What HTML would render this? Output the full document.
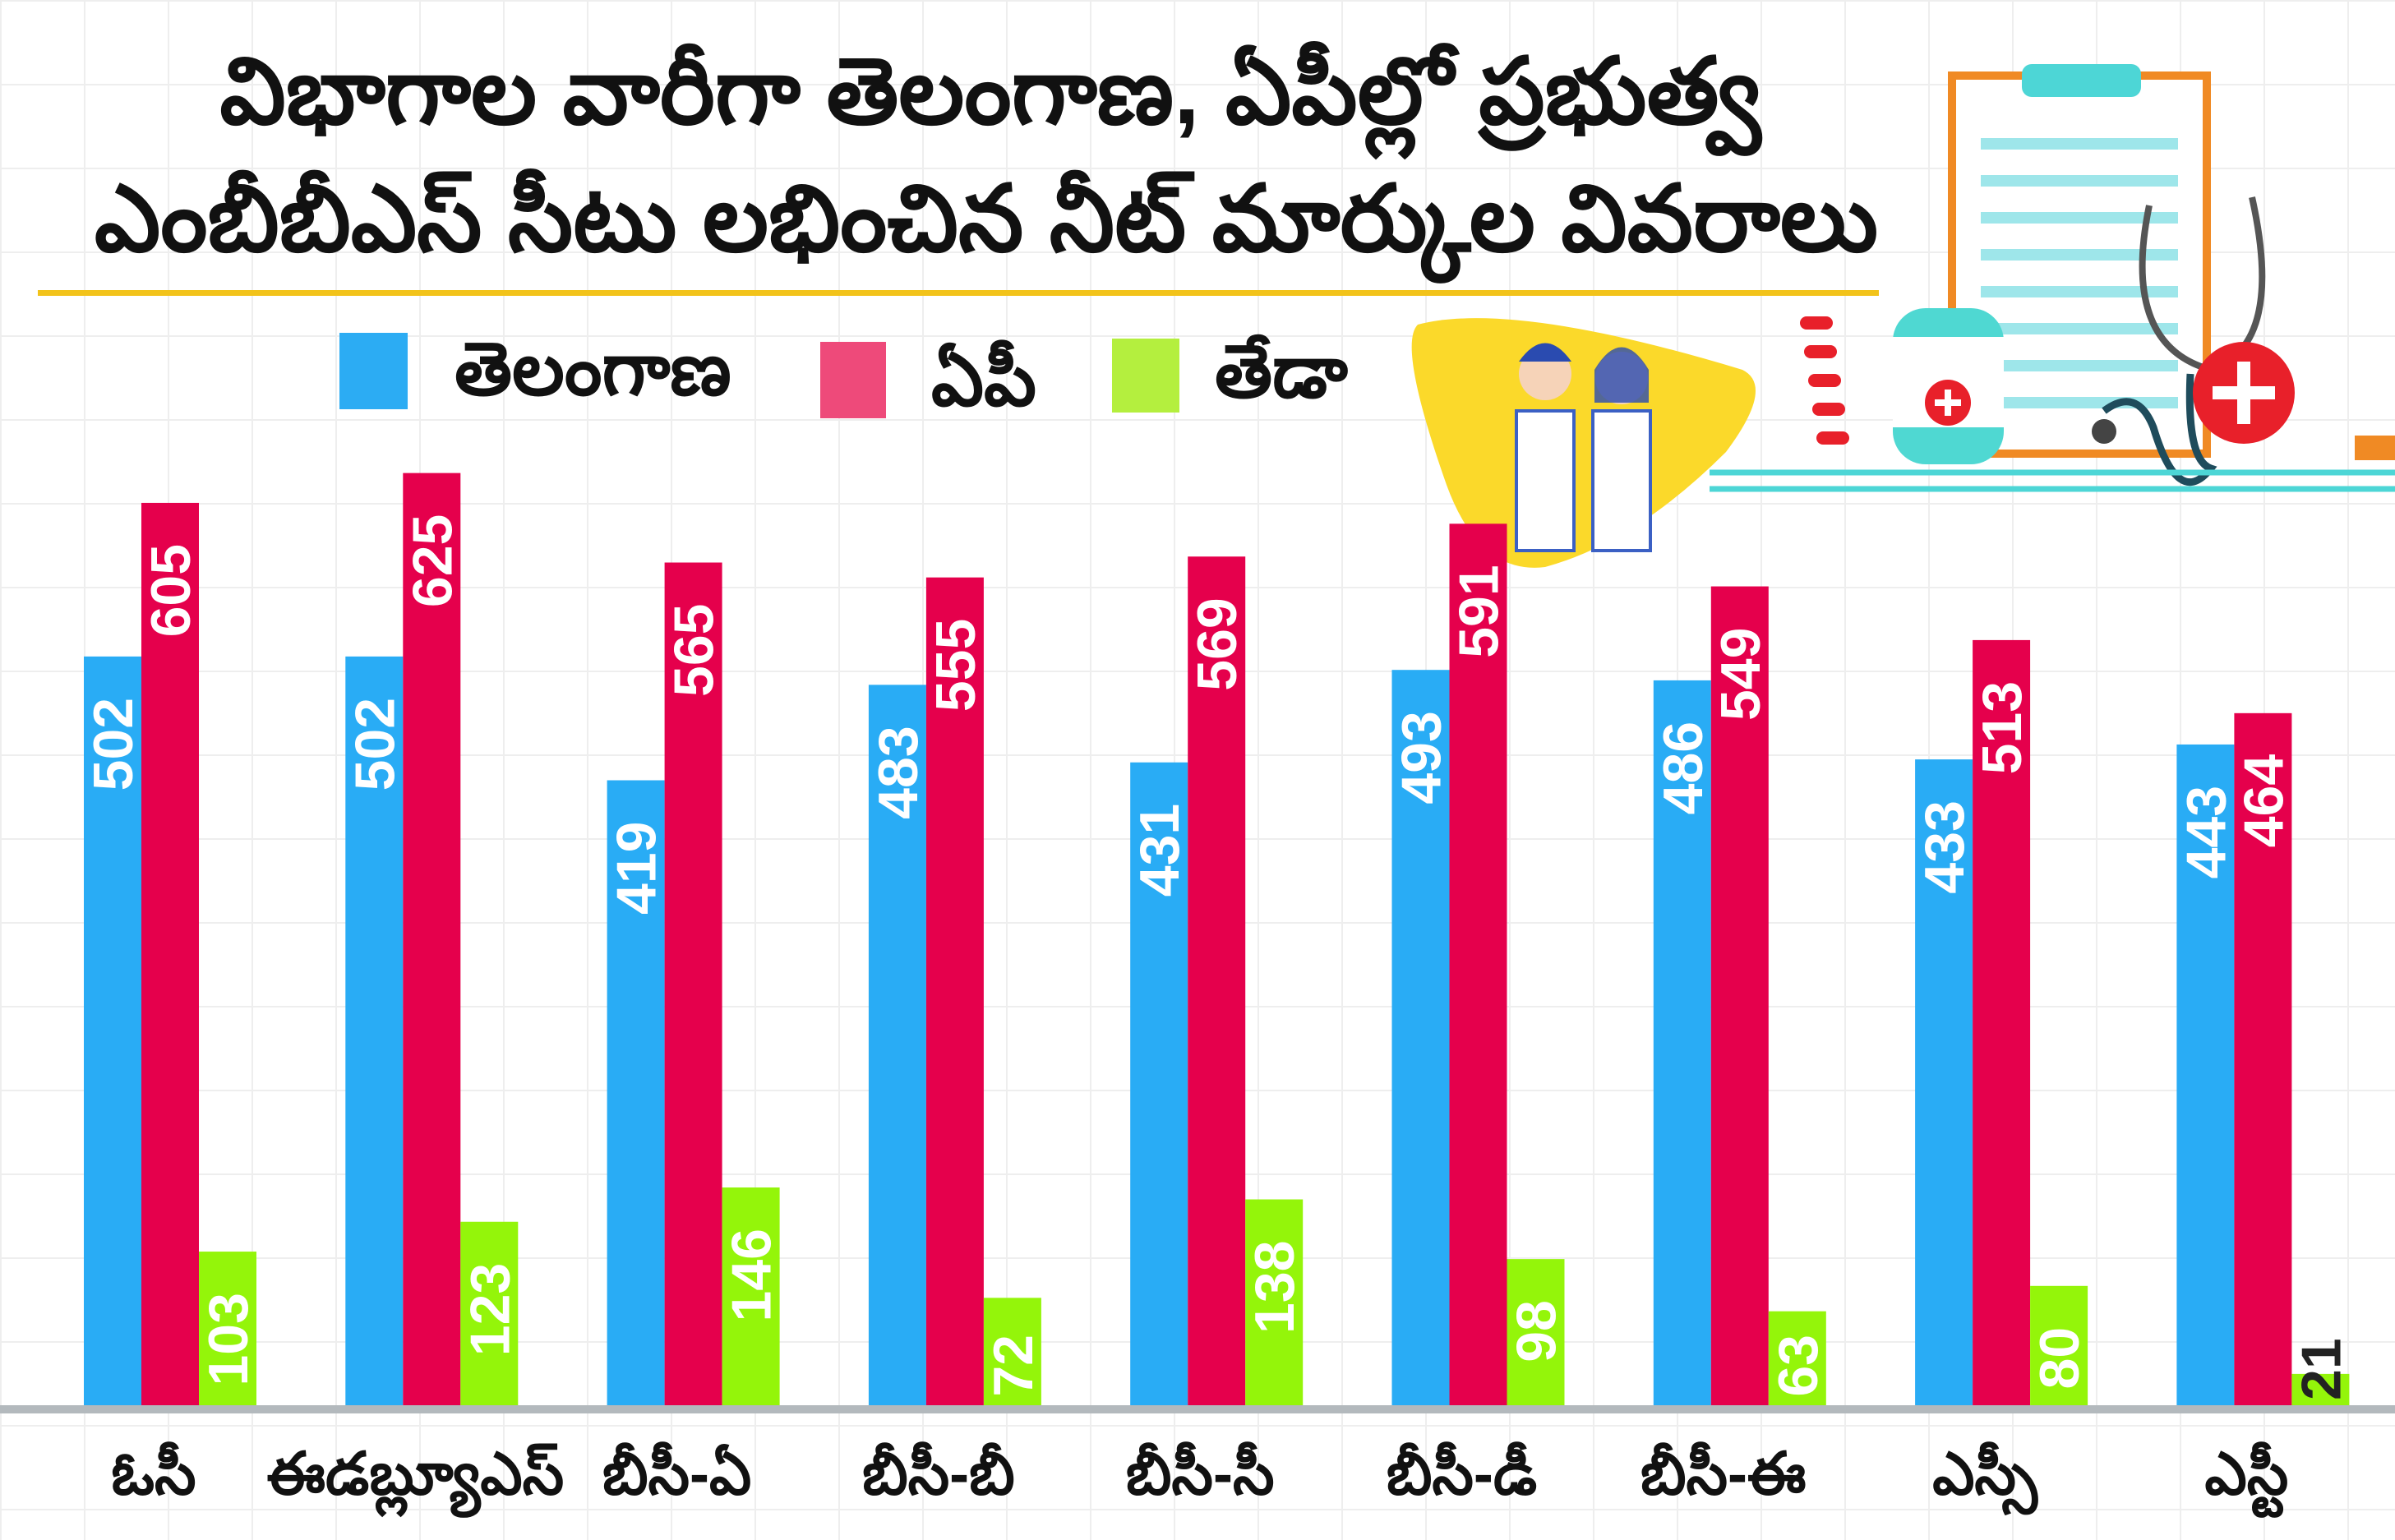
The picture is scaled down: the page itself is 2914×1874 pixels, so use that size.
<!DOCTYPE html>
<html><head><meta charset="utf-8"><style>
html,body{margin:0;padding:0;background:#fff}
svg{display:block}
text{font-family:"Liberation Sans",sans-serif;font-weight:bold}
</style></head><body>
<svg width="2914" height="1874" viewBox="0 0 2914 1874" xmlns="http://www.w3.org/2000/svg">
<defs>
<pattern id="g" width="102" height="102" patternUnits="userSpaceOnUse">
<path d="M0 0H102M0 0V102" stroke="#eeeeee" stroke-width="4" fill="none"/>
</pattern>
</defs>
<rect width="2914" height="1874" fill="#fff"/>
<rect width="2914" height="1874" fill="url(#g)"/>

<text x="1205" y="150" font-size="113" text-anchor="middle" fill="#111">విభాగాల వారీగా తెలంగాణ, ఏపీల్లో ప్రభుత్వ</text>
<text x="1200" y="305" font-size="113" text-anchor="middle" fill="#111">ఎంబీబీఎస్ సీటు లభించిన నీట్ మార్కుల వివరాలు</text>
<rect x="46" y="353" width="2240" height="7" fill="#f2c31a"/>

<g>
<rect x="2375" y="92" width="310" height="460" fill="#fff" stroke="#f08a24" stroke-width="10"/>
<rect x="2460" y="78" width="145" height="40" rx="12" fill="#4dd6d6"/>
<g stroke="#9ee6ea" stroke-width="14">
<path d="M2410 175H2650M2410 220H2650M2410 265H2650M2410 310H2650M2410 355H2650M2410 400H2650M2410 445H2650M2410 490H2650"/>
</g>
<path d="M2615 250 Q2580 420 2690 450 Q2780 420 2740 240" stroke="#555" stroke-width="8" fill="none"/>
<path d="M2665 455 Q2660 560 2690 570 Q2650 620 2620 520 Q2600 470 2560 500" stroke="#1f4c5c" stroke-width="9" fill="none"/>
<circle cx="2560" cy="525" r="15" fill="#444"/>
<circle cx="2730" cy="478" r="62" fill="#e8202a"/>
<path d="M2730 440V516M2692 478H2768" stroke="#fff" stroke-width="16"/>
<rect x="2303" y="375" width="135" height="190" rx="40" fill="#4fd8d2"/>
<rect x="2303" y="410" width="135" height="110" fill="#fff"/>
<circle cx="2370" cy="490" r="28" fill="#e8202a"/>
<path d="M2370 474V506M2354 490H2386" stroke="#fff" stroke-width="8"/>
<g fill="#e8202a"><rect x="2190" y="385" width="40" height="16" rx="8"/><rect x="2195" y="420" width="40" height="16" rx="8"/><rect x="2200" y="455" width="40" height="16" rx="8"/><rect x="2205" y="490" width="40" height="16" rx="8"/><rect x="2210" y="525" width="40" height="16" rx="8"/></g>
<rect x="2865" y="530" width="49" height="30" fill="#f08a24"/>
<path d="M2080 575H2914M2080 595H2914" stroke="#4dd6d6" stroke-width="7"/>
<path d="M1725 395 Q1840 365 2120 450 Q2160 470 2100 550 Q1990 660 1880 690 Q1800 700 1760 590 Q1700 420 1725 395Z" fill="#fbd92a"/>
<g>
<rect x="1845" y="500" width="70" height="170" fill="#fff" stroke="#3b60c4" stroke-width="4"/>
<circle cx="1880" cy="455" r="32" fill="#f6d3b8"/>
<path d="M1848 440 Q1880 395 1912 440Z" fill="#2a4bb0"/>
<rect x="1938" y="500" width="70" height="170" fill="#fff" stroke="#3b60c4" stroke-width="4"/>
<circle cx="1973" cy="460" r="32" fill="#f6d3b8"/>
<path d="M1940 450 Q1973 395 2006 450 L2006 490 L1940 490Z" fill="#2a4bb0" opacity="0.8"/>
</g>
</g>

<rect x="413" y="405" width="83" height="93" fill="#2cacf3"/>
<text x="553" y="480" font-size="90" fill="#111">తెలంగాణ</text>
<rect x="998" y="416" width="80" height="93" fill="#ee4a7a"/>
<text x="1133" y="493" font-size="90" fill="#111">ఏపీ</text>
<rect x="1353" y="412" width="82" height="90" fill="#b4ef3e"/>
<text x="1478" y="483" font-size="90" fill="#111">తేడా</text>

<g id="bars"></g>
<rect x="0" y="1710" width="2914" height="10" fill="#b3b9bd"/>
</svg>
<script>
const tg=[502,502,419,483,431,493,486,433,443],ap=[605,625,565,555,569,591,549,513,464],df=[103,123,146,72,138,98,63,80,21];
const cats=["ఓసీ","ఈడబ్ల్యూఎస్","బీసీ-ఏ","బీసీ-బీ","బీసీ-సీ","బీసీ-డీ","బీసీ-ఈ","ఎస్సీ","ఎస్టీ"];
const B=1710,K=1.815,W=70;let h="";
const cols=["#29acf5","#e5004c","#94f50a"];
for(let i=0;i<9;i++){const x0=102+i*318.3;[tg[i],ap[i],df[i]].forEach((v,j)=>{const x=x0+j*W,ht=v*K,top=B-ht;
h+=`<rect x="${x}" y="${top}" width="${W}" height="${ht}" fill="${cols[j]}"/>`;
const cx=x+W/2+24;const len=String(v).length*38;
if(v<40){h+=`<text transform="translate(${cx},${B-6}) rotate(-90)" text-anchor="start" font-size="68" fill="#222">${v}</text>`;}
else{const ty=Math.min(top+50,B-len-10);
h+=`<text transform="translate(${cx},${ty}) rotate(-90)" text-anchor="end" font-size="68" fill="#fff">${v}</text>`;}});
h+=`<text x="${x0+85}" y="1818" font-size="72" text-anchor="middle" fill="#111">${cats[i]}</text>`;}
document.getElementById("bars").innerHTML=h;
</script>
</body></html>
